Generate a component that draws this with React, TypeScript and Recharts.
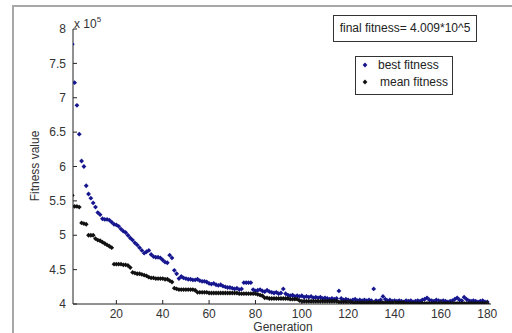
import { Legend, Scatter, ScatterChart, XAxis, YAxis } from "recharts";

// generation index (x) and the two fitness series, in units of 10^5
const generations = Array.from({ length: 180 }, (_, i) => i + 1);

const bestFitness = [
  7.78, 7.22, 6.89, 6.47, 6.08, 6.0, 5.72, 5.6, 5.54, 5.47,
  5.41, 5.33, 5.3, 5.24, 5.23, 5.23, 5.22, 5.19, 5.16, 5.15,
  5.13, 5.09, 5.06, 5.04, 5.0, 4.96, 4.93, 4.89, 4.86, 4.82,
  4.78, 4.74, 4.76, 4.78, 4.72, 4.69, 4.68, 4.68, 4.67, 4.64,
  4.61, 4.6, 4.71, 4.67, 4.49, 4.44, 4.37, 4.4, 4.38, 4.37,
  4.36, 4.36, 4.35, 4.35, 4.36, 4.34, 4.33, 4.33, 4.32, 4.3,
  4.29, 4.3, 4.28, 4.27, 4.28, 4.26, 4.25, 4.24, 4.24, 4.23,
  4.22, 4.23, 4.21, 4.22, 4.31, 4.31, 4.31, 4.31, 4.21, 4.19,
  4.2, 4.21, 4.19, 4.18, 4.2, 4.18, 4.17, 4.16, 4.17, 4.15,
  4.16, 4.22, 4.15, 4.13, 4.12, 4.13, 4.11, 4.12, 4.11, 4.12,
  4.1, 4.11, 4.1, 4.11, 4.09, 4.1, 4.09, 4.1, 4.08, 4.09,
  4.08, 4.07, 4.08, 4.07, 4.08, 4.19, 4.08, 4.06, 4.07, 4.06,
  4.05, 4.06, 4.07, 4.05, 4.06, 4.05, 4.06, 4.05, 4.06, 4.05,
  4.22, 4.05, 4.04, 4.06, 4.11, 4.07, 4.05, 4.06, 4.04, 4.05,
  4.04, 4.05, 4.04, 4.03, 4.05, 4.04, 4.05, 4.03, 4.04, 4.05,
  4.04, 4.06, 4.07, 4.09, 4.06, 4.05, 4.04, 4.06, 4.05, 4.04,
  4.05, 4.04, 4.03, 4.04, 4.05, 4.07, 4.09, 4.06, 4.05, 4.1,
  4.07, 4.05, 4.04, 4.05, 4.04, 4.03, 4.04, 4.05, 4.03, 4.03
];

const meanFitness = [
  5.58, 5.42, 5.42, 5.41, 5.18, 5.17, 5.16, 5.0, 5.0, 5.0,
  4.95, 4.93, 4.92, 4.9, 4.88, 4.86, 4.84, 4.82, 4.58, 4.58,
  4.58, 4.58, 4.57, 4.57, 4.56, 4.53, 4.46, 4.45, 4.44, 4.44,
  4.43, 4.42, 4.41, 4.39, 4.38, 4.38, 4.37, 4.37, 4.37, 4.37,
  4.36, 4.36, 4.34, 4.32, 4.23, 4.22, 4.21, 4.21, 4.21, 4.21,
  4.21, 4.21, 4.21, 4.2, 4.17, 4.17, 4.17, 4.17, 4.17, 4.16,
  4.16, 4.16, 4.16, 4.16, 4.16, 4.16, 4.16, 4.16, 4.16, 4.16,
  4.16, 4.16, 4.15, 4.15, 4.15, 4.15, 4.15, 4.15, 4.15, 4.15,
  4.14, 4.13, 4.12, 4.09, 4.09, 4.08, 4.08, 4.08, 4.08, 4.08,
  4.08, 4.08, 4.08, 4.08, 4.07, 4.07, 4.07, 4.07, 4.05, 4.04,
  4.04, 4.04, 4.04, 4.04, 4.04, 4.04, 4.04, 4.04, 4.04, 4.04,
  4.04, 4.04, 4.04, 4.04, 4.04, 4.03, 4.03, 4.03, 4.03, 4.03,
  4.03, 4.02, 4.02, 4.02, 4.02, 4.02, 4.02, 4.02, 4.02, 4.02,
  4.02, 4.02, 4.02, 4.02, 4.02, 4.02, 4.02, 4.02, 4.02, 4.02,
  4.02, 4.02, 4.02, 4.02, 4.01, 4.01, 4.01, 4.01, 4.01, 4.01,
  4.01, 4.01, 4.01, 4.01, 4.01, 4.01, 4.01, 4.01, 4.01, 4.01,
  4.01, 4.01, 4.01, 4.01, 4.01, 4.01, 4.01, 4.01, 4.01, 4.01,
  4.01, 4.01, 4.01, 4.01, 4.01, 4.01, 4.01, 4.01, 4.01, 4.009
];

const xTicks = [20, 40, 60, 80, 100, 120, 140, 160, 180];
const yTicks = [4, 4.5, 5, 5.5, 6, 6.5, 7, 7.5, 8];
const finalLabel = "final fitness= 4.009*10^5";

const bestData = generations.map((g, i) => ({ g, v: bestFitness[i] }));
const meanData = generations.map((g, i) => ({ g, v: meanFitness[i] }));

const BLUE = "#16168f";
const BLACK = "#111111";
const AXIS = "#222222";
const FONT = "'Liberation Sans', Arial, sans-serif";

const dot = (color: string) => (props: any) => {
  const { cx, cy } = props;
  const r = 2.4;
  return (
    <path
      d={`M${cx - r},${cy} L${cx},${cy - r} L${cx + r},${cy} L${cx},${cy + r} Z`}
      fill={color}
    />
  );
};

const YTick = ({ x, y, payload }: any) => (
  <g>
    <line stroke={AXIS} x1={x + 6} x2={x + 10} y1={y} y2={y} />
    <text
      dy={4.2}
      fill="#333"
      fontFamily={FONT}
      fontSize={12}
      textAnchor="end"
      x={x - 1}
      y={y}
    >
      {payload.value}
    </text>
  </g>
);

const XTick = ({ x, y, payload }: any) => (
  <g>
    <line stroke={AXIS} x1={x} x2={x} y1={y - 6} y2={y - 10} />
    <text
      dy={8}
      fill="#333"
      fontFamily={FONT}
      fontSize={12}
      textAnchor="middle"
      x={x}
      y={y}
    >
      {payload.value}
    </text>
  </g>
);

const renderLegend = () => (
  <div
    style={{
      width: 96,
      height: 37,
      border: "1px solid #333",
      background: "#fff",
      fontFamily: FONT,
      fontSize: 12,
      color: "#222",
      position: "relative"
    }}
  >
    <svg height={37} style={{ position: "absolute", left: 0, top: 0 }} width={20}>
      {dot(BLUE)({ cx: 9, cy: 8 })}
      {dot(BLACK)({ cx: 9, cy: 25 })}
    </svg>
    <div style={{ position: "absolute", left: 22, top: 0, lineHeight: "16px" }}>
      best fitness
    </div>
    <div style={{ position: "absolute", left: 24, top: 17, lineHeight: "16px" }}>
      mean fitness
    </div>
  </div>
);

export default function App() {
  return (
    <div
      style={{
        position: "absolute",
        left: 0,
        top: 0,
        width: 512,
        height: 333,
        background: "#fff",
        overflow: "hidden"
      }}
    >
      <div
        style={{
          position: "absolute",
          left: 12,
          top: 5,
          width: 520,
          height: 340,
          borderTop: "2px solid #a8a8a8",
          borderLeft: "2px solid #a8a8a8"
        }}
      />
      <ScatterChart
        height={333}
        margin={{ top: 29, right: 21, bottom: 0, left: 0 }}
        style={{ position: "absolute", left: 0, top: 0 }}
        width={512}
      >
        <XAxis
          allowDataOverflow
          axisLine={{ stroke: AXIS }}
          dataKey="g"
          domain={[1.3, 181.6]}
          height={29}
          tick={<XTick />}
          tickLine={false}
          tickMargin={0}
          tickSize={6}
          ticks={xTicks}
          type="number"
        />
        <YAxis
          allowDataOverflow
          axisLine={{ stroke: AXIS }}
          dataKey="v"
          domain={[4, 8]}
          tick={<YTick />}
          tickLine={false}
          tickMargin={0}
          tickSize={6}
          ticks={yTicks}
          type="number"
          width={73}
        />
        <Legend
          content={renderLegend}
          layout="horizontal"
          verticalAlign="middle"
          wrapperStyle={{ left: 355, top: 56, width: 98, height: 39 }}
        />
        <Scatter
          data={bestData}
          fill={BLUE}
          isAnimationActive={false}
          name="best fitness"
          shape={dot(BLUE)}
        />
        <Scatter
          data={meanData}
          fill={BLACK}
          isAnimationActive={false}
          name="mean fitness"
          shape={dot(BLACK)}
        />
      </ScatterChart>
      {/* exponent label above the y axis */}
      <div
        style={{
          position: "absolute",
          left: 74,
          top: 13,
          fontFamily: FONT,
          fontSize: 12,
          color: "#333",
          lineHeight: "14px"
        }}
      >
        x 10<sup style={{ fontSize: 8, verticalAlign: "6px" }}>5</sup>
      </div>
      {/* axis titles */}
      <div
        style={{
          position: "absolute",
          left: 253,
          top: 322,
          width: 60,
          textAlign: "center",
          fontFamily: FONT,
          fontSize: 12,
          color: "#333",
          lineHeight: "11px"
        }}
      >
        Generation
      </div>
      <div
        style={{
          position: "absolute",
          left: 35,
          top: 166,
          transform: "translate(-50%, -50%) rotate(-90deg)",
          whiteSpace: "nowrap",
          fontFamily: FONT,
          fontSize: 12,
          color: "#333",
          lineHeight: "14px"
        }}
      >
        Fitness value
      </div>
      {/* final fitness annotation */}
      <div
        style={{
          position: "absolute",
          left: 333,
          top: 15,
          width: 142,
          height: 25,
          border: "1px solid #333",
          fontFamily: FONT,
          fontSize: 12,
          color: "#222",
          lineHeight: "25px",
          textAlign: "center"
        }}
      >
        {finalLabel}
      </div>
    </div>
  );
}
